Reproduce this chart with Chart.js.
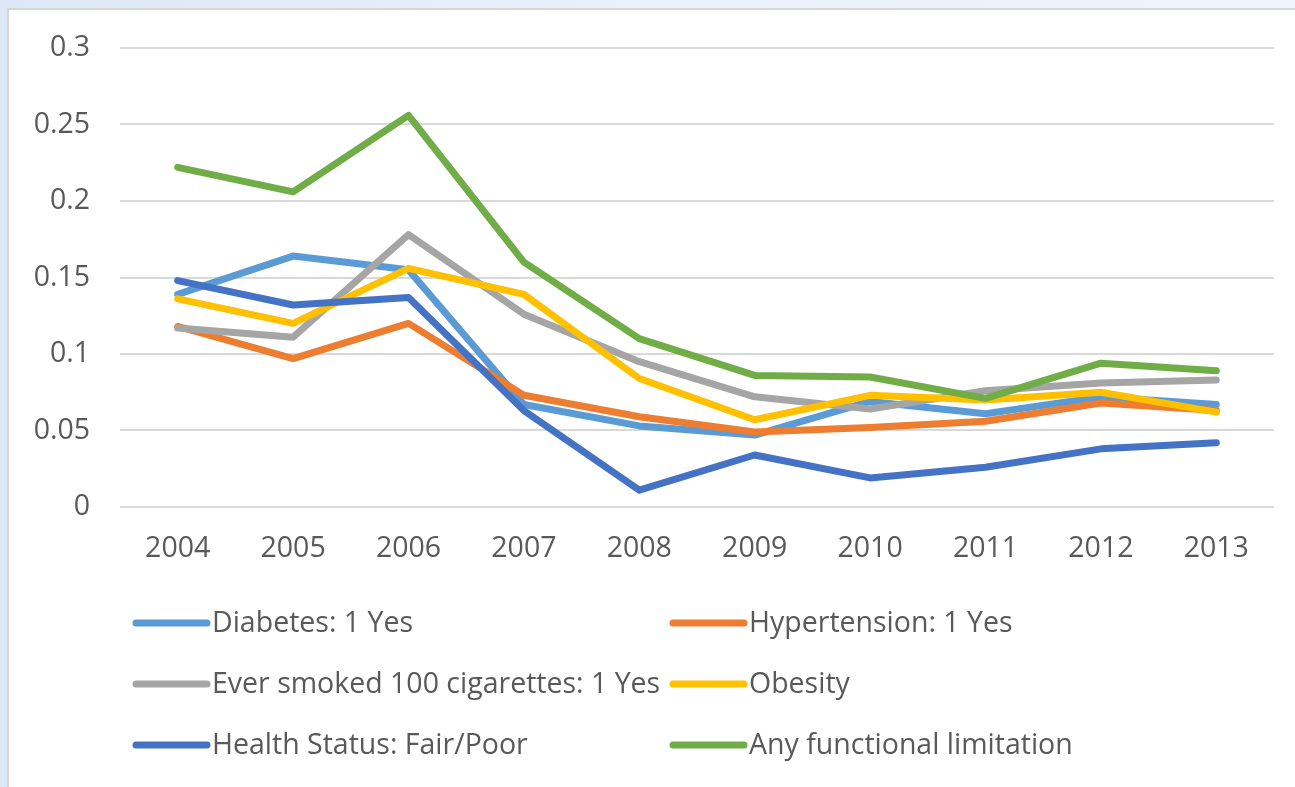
<!DOCTYPE html>
<html>
<head>
<meta charset="utf-8">
<script src="https://cdn.jsdelivr.net/npm/chart.js@4"></script>
<style>
  html, body { margin:0; padding:0; width:1295px; height:787px; overflow:hidden;
    background: linear-gradient(90deg, #dce8f5 0%, #e9f1fa 50%, #eef4fb 100%); }
  #frame { position:absolute; left:7px; top:8px; width:1310px; height:800px;
    background:#ffffff; border:2px solid #d6d6d6; }
  #wrap { position:absolute; left:0; top:0; width:1295px; height:787px; }
</style>
</head>
<body>
<div id="frame"></div>
<div id="wrap"><canvas id="c"></canvas></div>
<script>
const years = ["2004","2005","2006","2007","2008","2009","2010","2011","2012","2013"];
const seriesNames = ["Diabetes: 1 Yes","Hypertension: 1 Yes","Ever smoked 100 cigarettes: 1 Yes","Obesity","Health Status: Fair/Poor","Any functional limitation"];
const diabetes     = [0.139, 0.164, 0.155, 0.067, 0.053, 0.047, 0.069, 0.061, 0.072, 0.067];
const hypertension = [0.118, 0.097, 0.120, 0.073, 0.059, 0.049, 0.052, 0.056, 0.068, 0.063];
const smoked       = [0.117, 0.111, 0.178, 0.126, 0.095, 0.072, 0.064, 0.076, 0.081, 0.083];
const obesity      = [0.136, 0.120, 0.156, 0.139, 0.084, 0.057, 0.073, 0.070, 0.075, 0.062];
const healthStatus = [0.148, 0.132, 0.137, 0.063, 0.011, 0.034, 0.019, 0.026, 0.038, 0.042];
const functional   = [0.222, 0.206, 0.256, 0.160, 0.110, 0.086, 0.085, 0.071, 0.094, 0.089];
const yTicks = [0, 0.05, 0.1, 0.15, 0.2, 0.25, 0.3];
const colors = ["#5B9BD5","#ED7D31","#A5A5A5","#FFC000","#4472C4","#70AD47"];
const allSeries = [diabetes, hypertension, smoked, obesity, healthStatus, functional];

const FONT = "'Open Sans', 'Noto Sans', sans-serif";
const TEXT = "#595959";

const legendPlugin = {
  id: 'gridLegend',
  afterDraw(chart) {
    const ctx = chart.ctx;
    const colX = [133, 670];
    const rowY = [623, 684, 745];
    ctx.save();
    ctx.font = "28.5px " + FONT;
    ctx.textBaseline = "middle";
    ctx.textAlign = "left";
    chart.data.datasets.forEach((ds, i) => {
      const x = colX[i % 2], y = rowY[Math.floor(i / 2)];
      ctx.strokeStyle = ds.borderColor;
      ctx.lineWidth = 7;
      ctx.lineCap = "round";
      ctx.beginPath();
      ctx.moveTo(x + 3, y);
      ctx.lineTo(x + 74, y);
      ctx.stroke();
      ctx.fillStyle = TEXT;
      ctx.fillText(ds.label, x + 79, y + 1);
    });
    ctx.restore();
  }
};

new Chart(document.getElementById('c'), {
  type: 'line',
  data: {
    labels: years,
    datasets: allSeries.map((d, i) => ({
      label: seriesNames[i],
      data: d,
      borderColor: colors[i],
      backgroundColor: colors[i],
      borderWidth: 7,
      borderCapStyle: 'round',
      borderJoinStyle: 'round',
      pointRadius: 0,
      tension: 0,
      fill: false,
      order: allSeries.length - i
    }))
  },
  options: {
    responsive: true,
    maintainAspectRatio: false,
    animation: false,
    layout: { padding: { left: 0, right: 21, top: 48, bottom: 0 } },
    plugins: {
      legend: { display: false },
      tooltip: { enabled: false }
    },
    scales: {
      x: {
        type: 'category',
        offset: true,
        grid: { display: false, drawTicks: false },
        border: { display: false },
        ticks: { color: TEXT, font: { family: FONT, size: 28.5 }, padding: 25, maxRotation: 0 },
        afterFit(scale) { scale.height = 280; }
      },
      y: {
        min: 0, max: 0.3,
        afterBuildTicks(scale) { scale.ticks = yTicks.map(v => ({ value: v })); },
        grid: { color: "#d9d9d9", lineWidth: 2, drawTicks: false },
        border: { display: false },
        ticks: {
          color: TEXT, font: { family: FONT, size: 28.5 }, padding: 30,
          callback: v => String(+Number(v).toFixed(2))
        },
        afterFit(scale) { scale.width = 120; }
      }
    }
  },
  plugins: [legendPlugin]
});
</script>
</body>
</html>
